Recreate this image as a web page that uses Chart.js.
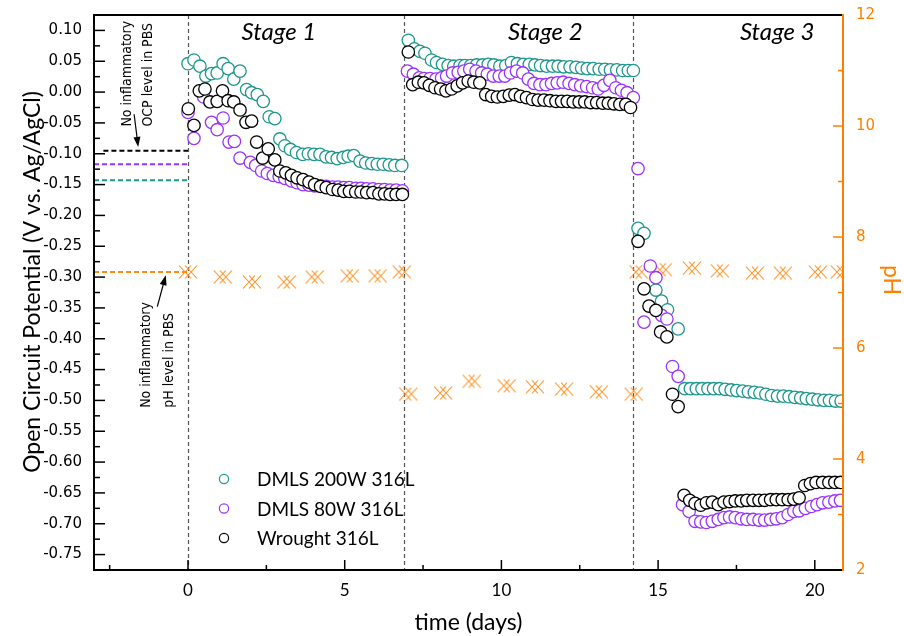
<!DOCTYPE html>
<html>
<head>
<meta charset="utf-8">
<script src="https://cdn.jsdelivr.net/npm/chart.js@4.4.1/dist/chart.umd.min.js"></script>
<style>
  html, body { margin: 0; padding: 0; background: #fff; }
  #wrap { width: 904px; height: 636px; }
</style>
</head>
<body>
<div id="wrap"><canvas id="ocpChart" width="904" height="636"></canvas></div>
<script>
/* ---------- axes ---------- */
const timeTicks = [0, 5, 10, 15, 20];
const ocpTicks = [0.10, 0.05, 0.00, -0.05, -0.10, -0.15, -0.20, -0.25, -0.30, -0.35,
                  -0.40, -0.45, -0.50, -0.55, -0.60, -0.65, -0.70, -0.75];
const phTicks = [2, 4, 6, 8, 10, 12];

/* ---------- stages ---------- */
const stageBounds = [0, 6.88, 14.2];
const stageNames = ["Stage 1", "Stage 2", "Stage 3"];
const stageLabelX = [2.9, 11.4, 18.8];

/* ---------- DMLS 200W 316L ---------- */
const dmls200Time = [
  0.00, 0.19, 0.38, 0.57, 0.75, 0.93, 1.12, 1.28, 1.46, 1.66, 1.87, 2.03, 2.21, 2.40, 2.59, 2.77,
  2.93, 3.09, 3.27, 3.46, 3.66, 3.84, 4.02, 4.21, 4.40, 4.58, 4.76, 4.95, 5.11, 5.29, 5.49, 5.67,
  5.86, 6.04, 6.23, 6.42, 6.60, 6.82,
  7.03, 7.22, 7.40, 7.56, 7.77, 7.93, 8.12, 8.30, 8.48, 8.68, 8.83, 9.02, 9.21, 9.40, 9.58, 9.76,
  9.95, 10.14, 10.32, 10.51, 10.70, 10.89, 11.07, 11.25, 11.44, 11.63, 11.81, 11.99, 12.19, 12.38,
  12.56, 12.74, 12.93, 13.12, 13.30, 13.48, 13.68, 13.87, 14.05, 14.21,
  14.36, 14.55, 14.93, 15.11, 15.30, 15.64,
  15.85, 16.03, 16.22, 16.40, 16.59, 16.77, 16.96, 17.14, 17.33, 17.51, 17.70, 17.88, 18.07, 18.25,
  18.44, 18.62, 18.81, 18.99, 19.18, 19.36, 19.55, 19.73, 19.92, 20.10, 20.29, 20.47, 20.66, 20.84
];
const dmls200Ocp = [
  0.046, 0.052, 0.042, 0.026, 0.030, 0.031, 0.046, 0.038, 0.021, 0.034, 0.004, -0.001, -0.004, -0.015, -0.040, -0.043,
  -0.076, -0.087, -0.093, -0.098, -0.101, -0.100, -0.101, -0.101, -0.105, -0.106, -0.108, -0.106, -0.104, -0.103, -0.112, -0.115,
  -0.116, -0.117, -0.117, -0.118, -0.119, -0.119,
  0.084, 0.070, 0.066, 0.063, 0.052, 0.048, 0.045, 0.043, 0.042, 0.043, 0.043, 0.043, 0.044, 0.044, 0.045, 0.044,
  0.042, 0.043, 0.048, 0.046, 0.045, 0.045, 0.044, 0.043, 0.042, 0.042, 0.042, 0.041, 0.041, 0.040,
  0.039, 0.038, 0.038, 0.037, 0.037, 0.036, 0.036, 0.035, 0.035, 0.035,
  -0.221, -0.229, -0.321, -0.339, -0.353, -0.384,
  -0.481, -0.481, -0.481, -0.481, -0.481, -0.481, -0.481, -0.482, -0.483, -0.484, -0.485, -0.486, -0.487, -0.488,
  -0.490, -0.492, -0.493, -0.493, -0.494, -0.495, -0.496, -0.497, -0.498, -0.499, -0.500, -0.500, -0.501, -0.501
];

/* ---------- DMLS 80W 316L ---------- */
const dmls80Time = [
  0.00, 0.19, 0.50, 0.75, 0.93, 1.12, 1.31, 1.48, 1.66, 1.99, 2.16, 2.35, 2.53, 2.72, 2.91, 3.09,
  3.30, 3.48, 3.67, 3.86, 4.04, 4.23, 4.41, 4.61, 4.79, 4.97, 5.15, 5.35, 5.52, 5.70, 5.90, 6.09,
  6.27, 6.45, 6.64, 6.84,
  7.00, 7.19, 7.38, 7.53, 7.72, 7.91, 8.09, 8.25, 8.44, 8.62, 8.80, 8.99, 9.19, 9.37, 9.55, 9.74,
  9.93, 10.11, 10.29, 10.48, 10.68, 10.86, 11.04, 11.23, 11.42, 11.60, 11.78, 11.97, 12.16, 12.34,
  12.53, 12.72, 12.91, 13.09, 13.27, 13.46, 13.65, 13.83, 14.01, 14.21,
  14.36, 14.55, 14.75, 14.93, 15.11, 15.28, 15.46, 15.64,
  15.78, 15.99, 16.18, 16.36, 16.54, 16.73, 16.92, 17.10, 17.28, 17.46, 17.65, 17.83, 18.03, 18.22,
  18.40, 18.59, 18.77, 18.96, 19.15, 19.33, 19.50, 19.70, 19.89, 20.07, 20.25, 20.45, 20.64, 20.82
];
const dmls80Ocp = [
  -0.033, -0.075, -0.008, -0.049, -0.061, -0.042, -0.081, -0.080, -0.107, -0.114, -0.119, -0.128, -0.132, -0.135, -0.137, -0.140,
  -0.144, -0.147, -0.150, -0.151, -0.152, -0.152, -0.153, -0.154, -0.154, -0.155, -0.155, -0.156, -0.156, -0.157, -0.157, -0.158,
  -0.158, -0.159, -0.159, -0.160,
  0.034, 0.029, 0.023, 0.022, 0.022, 0.021, 0.023, 0.026, 0.031, 0.032, 0.034, 0.037, 0.034, 0.031, 0.029, 0.026,
  0.026, 0.026, 0.031, 0.034, 0.031, 0.021, 0.014, 0.012, 0.012, 0.014, 0.015, 0.016, 0.014, 0.012,
  0.010, 0.009, 0.007, 0.005, 0.011, 0.019, 0.007, 0.003, -0.001, -0.009,
  -0.124, -0.373, -0.282, -0.301, -0.362, -0.368, -0.445, -0.461,
  -0.669, -0.680, -0.696, -0.697, -0.698, -0.696, -0.693, -0.690, -0.689, -0.690, -0.692, -0.693, -0.693, -0.694,
  -0.694, -0.693, -0.692, -0.690, -0.685, -0.680, -0.679, -0.675, -0.672, -0.669, -0.666, -0.665, -0.663, -0.662
];

/* ---------- Wrought 316L ---------- */
const wroughtTime = [
  0.01, 0.19, 0.36, 0.54, 0.70, 0.93, 1.10, 1.28, 1.46, 1.66, 1.85, 2.03, 2.19, 2.38, 2.56, 2.77,
  2.93, 3.12, 3.30, 3.48, 3.67, 3.86, 4.04, 4.23, 4.41, 4.61, 4.79, 4.97, 5.15, 5.35, 5.52, 5.70,
  5.90, 6.09, 6.27, 6.45, 6.64, 6.84,
  7.03, 7.17, 7.35, 7.53, 7.70, 7.88, 8.06, 8.23, 8.41, 8.59, 8.76, 8.94, 9.12, 9.31, 9.50, 9.69,
  9.87, 10.06, 10.25, 10.43, 10.61, 10.80, 10.99, 11.17, 11.36, 11.55, 11.74, 11.92, 12.10, 12.29,
  12.48, 12.66, 12.85, 13.04, 13.23, 13.41, 13.59, 13.78, 13.97, 14.12,
  14.36, 14.55, 14.71, 14.93, 15.08, 15.28, 15.46, 15.64,
  15.83, 16.01, 16.18, 16.36, 16.54, 16.73, 16.92, 17.10, 17.28, 17.46, 17.65, 17.83, 18.03, 18.22,
  18.40, 18.59, 18.77, 18.96, 19.15, 19.33, 19.50, 19.68, 19.86, 20.04, 20.25, 20.45, 20.64, 20.82
];
const wroughtOcp = [
  -0.027, -0.054, 0.002, 0.005, -0.016, -0.015, 0.002, -0.014, -0.016, -0.029, -0.049, -0.047, -0.081, -0.107, -0.092, -0.110,
  -0.128, -0.131, -0.135, -0.139, -0.142, -0.146, -0.150, -0.153, -0.155, -0.158, -0.159, -0.161, -0.161, -0.162, -0.162, -0.163,
  -0.163, -0.165, -0.165, -0.166, -0.166, -0.166,
  0.065, 0.012, 0.016, 0.015, 0.011, 0.007, 0.005, 0.002, 0.005, 0.010, 0.015, 0.018, 0.016, 0.015, -0.004, -0.007,
  -0.008, -0.007, -0.005, -0.004, -0.007, -0.009, -0.012, -0.013, -0.013, -0.014, -0.015, -0.015, -0.015, -0.016,
  -0.016, -0.016, -0.017, -0.017, -0.018, -0.018, -0.019, -0.020, -0.020, -0.025,
  -0.242, -0.319, -0.347, -0.354, -0.389, -0.397, -0.490, -0.510,
  -0.654, -0.662, -0.667, -0.670, -0.666, -0.665, -0.669, -0.665, -0.664, -0.663, -0.663, -0.662, -0.662, -0.662,
  -0.662, -0.661, -0.661, -0.661, -0.661, -0.660, -0.658, -0.638, -0.635, -0.633, -0.633, -0.633, -0.633, -0.633
];

/* ---------- pH of the medium ---------- */
const phTime = [0.00, 1.11, 2.04, 3.15, 4.04, 5.16, 6.05, 6.82,
                7.03, 8.14, 9.05, 10.17, 11.07, 12.00, 13.11, 14.22,
                14.38, 15.15, 16.08, 16.97, 18.09, 18.98, 20.10, 20.80];
const phValue = [7.37, 7.28, 7.19, 7.19, 7.28, 7.30, 7.30, 7.37,
                 5.17, 5.19, 5.40, 5.32, 5.30, 5.26, 5.21, 5.17,
                 7.37, 7.41, 7.44, 7.39, 7.35, 7.35, 7.37, 7.37];

/* ---------- baseline levels in PBS (no inflammation) ---------- */
const baselineOcp = [-0.143, -0.117, -0.095];   // 200W, 80W, wrought
const baselineStart = [-3, -3, -2.7];
const baselinePh = 7.37;

const TEAL = "#1e968c";
const PURPLE = "#9933ff";
const BLACK = "#000000";
const ORANGE = "#ff8c1a";
const AXIS_ORANGE = "#ff8000";

const pts = (xs, ys) => xs.map((x, i) => ({ x: x, y: ys[i] }));

// hollow double-cross marker used for the pH readings
function phMarker() {
    const c = document.createElement("canvas");
    c.width = 20;
    c.height = 16;
    const g = c.getContext("2d");
    g.strokeStyle = ORANGE;
    g.lineWidth = 1.1;
    [7, 13].forEach(cx => {
        g.beginPath();
        g.moveTo(cx - 6, 1.5);
        g.lineTo(cx + 6, 14.5);
        g.moveTo(cx + 6, 1.5);
        g.lineTo(cx - 6, 14.5);
        g.stroke();
    });
    return c;
}

function circleSet(label, color, xs, ys, order) {
    return {
        label: label,
        data: pts(xs, ys),
        yAxisID: "y",
        borderColor: color,
        backgroundColor: "#ffffff",
        pointRadius: 6.2,
        pointBorderWidth: 1.3,
        pointHoverRadius: 6.2,
        showLine: false,
        order: order,
        inLegend: true
    };
}

function baselineSet(color, start, level, axis) {
    return {
        data: [{ x: start, y: level }, { x: 0, y: level }],
        yAxisID: axis,
        borderColor: color,
        borderWidth: 2,
        borderDash: [5, 3],
        pointRadius: 0,
        showLine: true,
        order: 5
    };
}

// fixed box sizes for the axes; label overhang should not push the plot down
function fixWidth(w) {
    return (scale) => {
        scale.width = w;
        scale.paddingTop = 0;
        scale.paddingBottom = 0;
    };
}

/* ---------- extra drawing: frame, inner ticks, titles, stages, legend, notes ---------- */

function minorBetween(list, step) {
    const out = [];
    const lo = Math.min(...list), hi = Math.max(...list);
    for (let v = lo - step; v <= hi + step + 1e-9; v += step) out.push(v);
    return out;
}

function drawArrow(ctx, x0, y0, x1, y1) {
    const ang = Math.atan2(y1 - y0, x1 - x0);
    ctx.beginPath();
    ctx.moveTo(x0, y0);
    ctx.lineTo(x1 - 7 * Math.cos(ang), y1 - 7 * Math.sin(ang));
    ctx.stroke();
    ctx.beginPath();
    ctx.moveTo(x1, y1);
    ctx.lineTo(x1 - 10 * Math.cos(ang) + 3.5 * Math.sin(ang), y1 - 10 * Math.sin(ang) - 3.5 * Math.cos(ang));
    ctx.lineTo(x1 - 10 * Math.cos(ang) - 3.5 * Math.sin(ang), y1 - 10 * Math.sin(ang) + 3.5 * Math.cos(ang));
    ctx.closePath();
    ctx.fill();
}

function rotatedText(ctx, text, px, py, angle) {
    ctx.save();
    ctx.translate(px, py);
    ctx.rotate(angle);
    ctx.fillText(text, 0, 0);
    ctx.restore();
}

const notes = [
    { lines: ["No inflammatory", "OCP level in PBS"], x: -1.94, y: -0.056, gap: 21,
      arrow: [-1.72, -0.036, -1.59, -0.089] },
    { lines: ["No inflammatory", "pH level in PBS"], x: -1.34, y: -0.512, gap: 23,
      arrow: [-0.98, -0.348, -0.71, -0.297] }
];

const decor = {
    id: "decor",
    beforeDatasetsDraw(chart) {
        const { ctx, chartArea: a, scales: { x } } = chart;
        ctx.save();
        ctx.strokeStyle = "#555555";
        ctx.lineWidth = 1.2;
        ctx.setLineDash([4, 3]);
        stageBounds.forEach(t => {
            const px = Math.round(x.getPixelForValue(t)) + 0.5;
            ctx.beginPath();
            ctx.moveTo(px, a.top);
            ctx.lineTo(px, a.bottom);
            ctx.stroke();
        });
        ctx.restore();
    },
    afterDraw(chart) {
        const { ctx, chartArea: a, scales: { x, y, y1 } } = chart;
        ctx.save();

        // inward tick marks
        ctx.lineWidth = 1.5;
        ctx.strokeStyle = BLACK;
        const xt = (vals, len) => vals.forEach(v => {
            if (v < x.min || v > x.max) return;
            const px = x.getPixelForValue(v);
            ctx.beginPath(); ctx.moveTo(px, a.bottom); ctx.lineTo(px, a.bottom - len); ctx.stroke();
        });
        xt(timeTicks, 10);
        xt(minorBetween(timeTicks, 2.5).filter(v => !timeTicks.includes(v)), 5);

        const yt = (vals, len) => vals.forEach(v => {
            if (v < y.min || v > y.max) return;
            const py = y.getPixelForValue(v);
            ctx.beginPath(); ctx.moveTo(a.left, py); ctx.lineTo(a.left + len, py); ctx.stroke();
        });
        yt(ocpTicks, 11);
        yt(minorBetween(ocpTicks, 0.025).filter(v => !ocpTicks.some(t => Math.abs(t - v) < 1e-6)), 6);

        ctx.strokeStyle = AXIS_ORANGE;
        const rt = (vals, len) => vals.forEach(v => {
            if (v < y1.min || v > y1.max) return;
            const py = y1.getPixelForValue(v);
            ctx.beginPath(); ctx.moveTo(a.right, py); ctx.lineTo(a.right - len, py); ctx.stroke();
        });
        rt(phTicks, 10);
        rt(minorBetween(phTicks, 1).filter(v => !phTicks.includes(v)), 5);

        // frame
        ctx.lineWidth = 2;
        ctx.strokeStyle = BLACK;
        ctx.beginPath();
        ctx.moveTo(a.right, a.top); ctx.lineTo(a.left, a.top);
        ctx.lineTo(a.left, a.bottom); ctx.lineTo(a.right, a.bottom);
        ctx.stroke();
        ctx.strokeStyle = AXIS_ORANGE;
        ctx.beginPath();
        ctx.moveTo(a.right, a.top - 1); ctx.lineTo(a.right, a.bottom + 1);
        ctx.stroke();

        // vertical axis titles
        ctx.textAlign = "center";
        ctx.textBaseline = "middle";
        ctx.font = "23px Lato";
        ctx.fillStyle = BLACK;
        rotatedText(ctx, "Open Circuit Potential (V vs. Ag/AgCl)", 33, a.top + 267, -Math.PI / 2);
        ctx.fillStyle = AXIS_ORANGE;
        rotatedText(ctx, "pH", a.right + 48, a.top + 265, Math.PI / 2);

        // stage captions
        ctx.fillStyle = BLACK;
        ctx.font = "italic 24px Lato";
        stageNames.forEach((s, i) => ctx.fillText(s, x.getPixelForValue(stageLabelX[i]), a.top + 17));

        // legend in the lower-left corner
        ctx.font = "19px Lato";
        ctx.textAlign = "left";
        chart.data.datasets.filter(d => d.inLegend).forEach((d, i) => {
            const cy = a.bottom - 91 + i * 29.5;
            const cx = a.left + 130;
            ctx.lineWidth = 1.2;
            ctx.strokeStyle = d.borderColor;
            ctx.beginPath(); ctx.arc(cx, cy, 4.6, 0, Math.PI * 2); ctx.stroke();
            ctx.fillStyle = BLACK;
            ctx.fillText(d.label, cx + 33, cy + 1);
        });

        // notes on the baseline levels
        ctx.font = "14px 'Liberation Sans Narrow', 'DejaVu Sans Condensed', sans-serif";
        ctx.fillStyle = BLACK;
        ctx.strokeStyle = BLACK;
        ctx.lineWidth = 1.2;
        notes.forEach(n => {
            const px = x.getPixelForValue(n.x), py = y.getPixelForValue(n.y);
            ctx.save();
            ctx.translate(px, py);
            ctx.rotate(-Math.PI / 2);
            ctx.textAlign = "left";
            ctx.textBaseline = "middle";
            n.lines.forEach((s, i) => ctx.fillText(s, 0, i * n.gap));
            ctx.restore();
            const [ax0, ay0, ax1, ay1] = n.arrow;
            drawArrow(ctx, x.getPixelForValue(ax0), y.getPixelForValue(ay0),
                           x.getPixelForValue(ax1), y.getPixelForValue(ay1));
        });

        ctx.restore();
    }
};

/* ---------- chart ---------- */

new Chart(document.getElementById("ocpChart"), {

    type: "scatter",

    data: {
        datasets: [
            circleSet("DMLS 200W 316L", TEAL, dmls200Time, dmls200Ocp, 3),
            circleSet("DMLS 80W 316L", PURPLE, dmls80Time, dmls80Ocp, 2),
            circleSet("Wrought 316L", BLACK, wroughtTime, wroughtOcp, 1),
            {
                label: "pH",
                data: pts(phTime, phValue),
                yAxisID: "y1",
                pointStyle: phMarker(),
                pointRadius: 8,
                showLine: false,
                order: 4
            },
            baselineSet(TEAL, baselineStart[0], baselineOcp[0], "y"),
            baselineSet(PURPLE, baselineStart[1], baselineOcp[1], "y"),
            baselineSet(BLACK, baselineStart[2], baselineOcp[2], "y"),
            baselineSet(ORANGE, -3, baselinePh, "y1")
        ]
    },

    plugins: [decor],

    options: {
        responsive: false,
        animation: false,
        devicePixelRatio: 1,

        layout: {
            padding: { top: 15, right: 0, bottom: 0, left: 0 }
        },

        plugins: {
            legend: { display: false },
            tooltip: { enabled: false }
        },

        scales: {
            x: {
                type: "linear",
                min: -3,
                max: 20.9,
                afterBuildTicks: (axis) => { axis.ticks = timeTicks.map(v => ({ value: v })); },
                afterFit: (scale) => {
                    scale.height = 66;
                    scale.paddingLeft = 0;
                    scale.paddingRight = 0;
                },
                grid: { display: false, drawTicks: false },
                border: { display: false },
                ticks: {
                    padding: 10,
                    color: BLACK,
                    font: { family: "Lato", size: 17 },
                    maxRotation: 0
                },
                title: {
                    display: true,
                    text: "time (days)",
                    color: BLACK,
                    font: { family: "Lato", size: 23 },
                    padding: { top: 0, bottom: 0 }
                }
            },
            y: {
                type: "linear",
                position: "left",
                min: -0.775,
                max: 0.125,
                afterBuildTicks: (axis) => { axis.ticks = ocpTicks.map(v => ({ value: v })); },
                afterFit: fixWidth(94),
                grid: { display: false, drawTicks: false },
                border: { display: false },
                ticks: {
                    padding: 12,
                    color: BLACK,
                    font: { family: "DejaVu Sans", size: 15 },
                    callback: (v) => (Math.abs(v) < 1e-9 ? 0 : v).toFixed(2)
                }
            },
            y1: {
                type: "linear",
                position: "right",
                min: 2,
                max: 12,
                afterBuildTicks: (axis) => { axis.ticks = phTicks.map(v => ({ value: v })); },
                afterFit: fixWidth(61),
                grid: { display: false, drawTicks: false },
                border: { display: false },
                ticks: {
                    padding: 13,
                    color: AXIS_ORANGE,
                    font: { family: "DejaVu Sans", size: 15 }
                }
            }
        }
    }

});
</script>
</body>
</html>
